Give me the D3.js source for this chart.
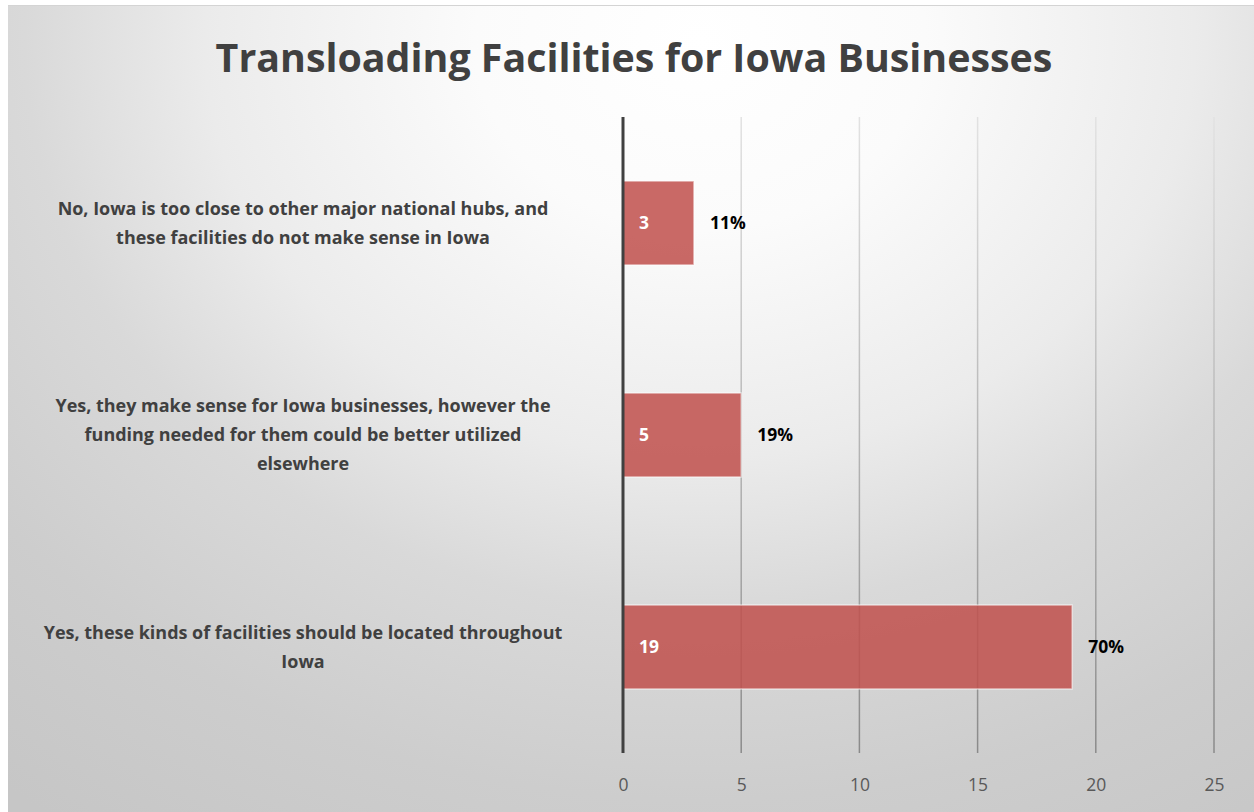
<!DOCTYPE html>
<html>
<head>
<meta charset="utf-8">
<script src="https://cdn.jsdelivr.net/npm/d3@7"></script>
<style>
  html, body { margin: 0; padding: 0; background: #ffffff; }
  svg { display: block; }
  text { font-family: "Open Sans", "DejaVu Sans", sans-serif; }
</style>
</head>
<body>
<svg id="chart" width="1254" height="812"></svg>
<script>
// Survey responses (count of respondents per answer)
const chartTitle = "Transloading Facilities for Iowa Businesses";
const categories = [
  "No, Iowa is too close to other major national hubs, and\nthese facilities do not make sense in Iowa",
  "Yes, they make sense for Iowa businesses, however the\nfunding needed for them could be better utilized\nelsewhere",
  "Yes, these kinds of facilities should be located throughout\nIowa"
];
const counts = [3, 5, 19];
const xTicks = [0, 5, 10, 15, 20, 25];

const W = 1254, H = 812;
const svg = d3.select("#chart");
const defs = svg.append("defs");

// Soft radial backdrop, bright behind the title and greying toward the edges
const gcx = 700, gcy = 40;
const bg = defs.append("radialGradient")
  .attr("id", "bgGrad")
  .attr("gradientUnits", "userSpaceOnUse")
  .attr("cx", gcx).attr("cy", gcy).attr("r", 1125)
  .attr("gradientTransform", `translate(${gcx},${gcy}) scale(1,0.844) translate(${-gcx},${-gcy})`);
[[0, "#ffffff"], [0.2, "#fbfbfb"], [0.44, "#ebebeb"], [0.6, "#d9d9d9"], [0.8, "#cdcdcd"], [1, "#c6c6c6"]]
  .forEach(([o, c]) => bg.append("stop").attr("offset", o).attr("stop-color", c));

const margin = { left: 623, right: 40, top: 117, bottom: 59 };
const plotBottom = H - margin.bottom;

// Gridlines fade from pale at the top to mid grey at the bottom
const gg = defs.append("linearGradient")
  .attr("id", "gridGrad")
  .attr("gradientUnits", "userSpaceOnUse")
  .attr("x1", 0).attr("y1", margin.top).attr("x2", 0).attr("y2", plotBottom);
gg.append("stop").attr("offset", 0).attr("stop-color", "#e2e2e2");
gg.append("stop").attr("offset", 1).attr("stop-color", "#8a8a8a");

svg.append("rect").attr("x", 8).attr("y", 5).attr("width", W - 8).attr("height", H - 5)
  .attr("fill", "url(#bgGrad)");
svg.append("line").attr("x1", 8).attr("x2", W).attr("y1", 5.5).attr("y2", 5.5)
  .attr("stroke", "#d4d4d4").attr("stroke-width", 1);

const x = d3.scaleLinear().domain([0, 25]).range([margin.left, 1214]);
const y = d3.scaleBand().domain(d3.range(categories.length))
  .range([margin.top, plotBottom]).paddingInner(0.604).paddingOuter(0.302);

// Vertical gridlines
svg.append("g").selectAll("line").data(xTicks.filter(t => t > 0)).join("line")
  .attr("x1", d => x(d)).attr("x2", d => x(d))
  .attr("y1", margin.top).attr("y2", plotBottom)
  .attr("stroke", "url(#gridGrad)").attr("stroke-width", 1.5);

// Tick labels
const xAxis = d3.axisBottom(x).tickValues(xTicks).tickSize(0).tickPadding(0);
const axisG = svg.append("g").attr("transform", `translate(0,${plotBottom})`).call(xAxis);
axisG.select(".domain").remove();
axisG.selectAll("text")
  .attr("y", 32)
  .attr("dy", "0.35em")
  .attr("fill", "#595959")
  .attr("font-size", 17.5)
  .attr("font-family", '"Open Sans", sans-serif');

// Bars
const total = d3.sum(counts);
svg.append("g").selectAll("rect").data(counts).join("rect")
  .attr("x", x(0))
  .attr("y", (d, i) => y(i))
  .attr("width", d => x(d) - x(0))
  .attr("height", y.bandwidth())
  .attr("fill", "#C0504D").attr("fill-opacity", 0.86)
  .attr("stroke", "#ffffff").attr("stroke-opacity", 0.55).attr("stroke-width", 1.5);

// Category axis line
svg.append("line")
  .attr("x1", x(0)).attr("x2", x(0)).attr("y1", margin.top).attr("y2", plotBottom)
  .attr("stroke", "#404040").attr("stroke-width", 3);

// Count labels inside the bars
svg.append("g").selectAll("text").data(counts).join("text")
  .attr("x", x(0) + 16)
  .attr("y", (d, i) => y(i) + y.bandwidth() / 2)
  .attr("dy", "0.36em")
  .attr("fill", "#ffffff").attr("font-weight", 700).attr("font-size", 17.5)
  .text(d => d);

// Share-of-total labels past the bar ends
svg.append("g").selectAll("text").data(counts).join("text")
  .attr("x", d => x(d) + 16)
  .attr("y", (d, i) => y(i) + y.bandwidth() / 2)
  .attr("dy", "0.36em")
  .attr("fill", "#000000").attr("font-weight", 700).attr("font-size", 17.5)
  .text(d => Math.round(d / total * 100) + "%");

// Category labels, centred multi-line
const catCenter = 303, lineH = 29;
const catG = svg.append("g");
catG.selectAll("text").data(categories).join("text")
  .attr("text-anchor", "middle")
  .attr("fill", "#404040").attr("font-weight", 700).attr("font-size", 17)
  .each(function (d, i) {
    const lines = d.split("\n");
    const cy = y(i) + y.bandwidth() / 2;
    const t = d3.select(this);
    lines.forEach((ln, k) => {
      t.append("tspan")
        .attr("x", catCenter)
        .attr("y", cy + (k - (lines.length - 1) / 2) * lineH)
        .attr("dy", "0.36em")
        .text(ln);
    });
  });

// Size the category text so the widest line spans ~491px
const probe = catG.select("tspan").node();
const w0 = probe.getComputedTextLength();
const catSize = 17 * 491 / w0;
catG.selectAll("text").attr("font-size", catSize);

// Title
const title = svg.append("text")
  .attr("x", 634).attr("y", 58).attr("dy", "0.35em")
  .attr("text-anchor", "middle")
  .attr("fill", "#404040").attr("font-weight", 700).attr("font-size", 40)
  .text(chartTitle);
const tw = title.node().getComputedTextLength();
title.attr("font-size", 40 * 837 / tw);
</script>
</body>
</html>
